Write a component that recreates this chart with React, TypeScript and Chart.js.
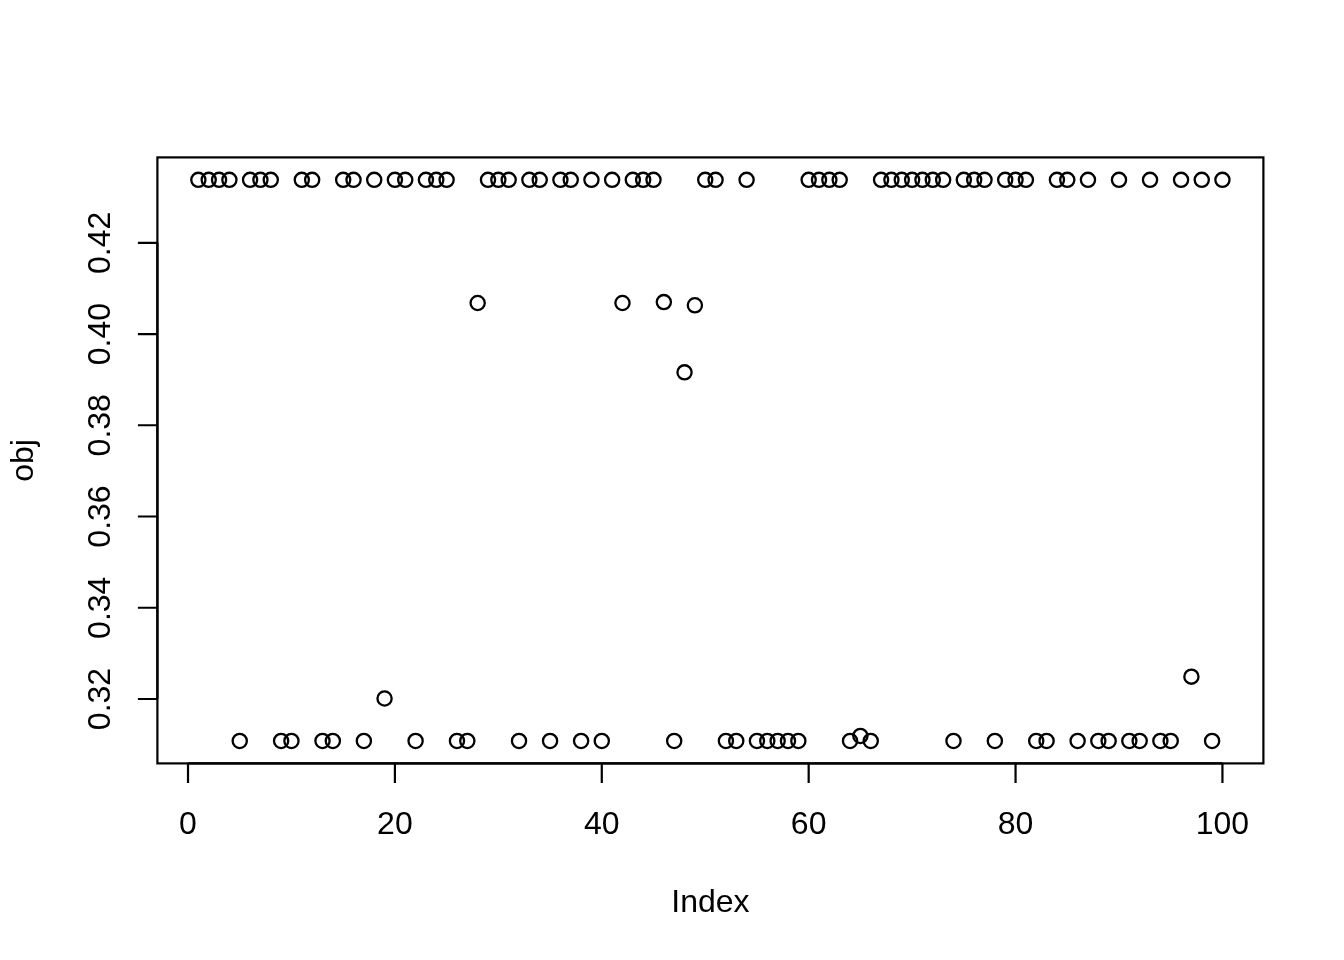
import React, { useEffect, useRef } from "react";
import { Chart, registerables } from "chart.js";

Chart.register(...registerables);

// obj values, index 1..100
const obj: number[] = [
  0.4338, 0.4338, 0.4338, 0.4338, 0.3108, 0.4338, 0.4338, 0.4338, 0.3108, 0.3108,
  0.4338, 0.4338, 0.3108, 0.3108, 0.4338, 0.4338, 0.3108, 0.4338, 0.3201, 0.4338,
  0.4338, 0.3108, 0.4338, 0.4338, 0.4338, 0.3108, 0.3108, 0.4068, 0.4338, 0.4338,
  0.4338, 0.3108, 0.4338, 0.4338, 0.3108, 0.4338, 0.4338, 0.3108, 0.4338, 0.3108,
  0.4338, 0.4068, 0.4338, 0.4338, 0.4338, 0.4070, 0.3108, 0.3916, 0.4063, 0.4338,
  0.4338, 0.3108, 0.3108, 0.4338, 0.3108, 0.3108, 0.3108, 0.3108, 0.3108, 0.4338,
  0.4338, 0.4338, 0.4338, 0.3108, 0.3119, 0.3108, 0.4338, 0.4338, 0.4338, 0.4338,
  0.4338, 0.4338, 0.4338, 0.3108, 0.4338, 0.4338, 0.4338, 0.3108, 0.4338, 0.4338,
  0.4338, 0.3108, 0.3108, 0.4338, 0.4338, 0.3108, 0.4338, 0.3108, 0.3108, 0.4338,
  0.3108, 0.3108, 0.4338, 0.3108, 0.3108, 0.4338, 0.3249, 0.4338, 0.3108, 0.4338,
];

const xTicks: number[] = [0, 20, 40, 60, 80, 100];
const xTickLabels: string[] = ["0", "20", "40", "60", "80", "100"];
const yTicks: number[] = [0.32, 0.34, 0.36, 0.38, 0.4, 0.42];
const yTickLabels: string[] = ["0.32", "0.34", "0.36", "0.38", "0.40", "0.42"];
const xTitle = "Index";
const yTitle = "obj";

const FONT = '32px "Liberation Sans", Arial, Helvetica, sans-serif';

const rAxesPlugin = {
  id: "rAxes",
  afterDraw(chart: any) {
    const { ctx, chartArea } = chart;
    const xs = chart.scales.x;
    const ys = chart.scales.y;
    const { left, right, top, bottom } = chartArea;
    ctx.save();
    ctx.strokeStyle = "#000";
    ctx.fillStyle = "#000";
    ctx.lineWidth = 2.2;
    ctx.lineCap = "butt";
    // box
    ctx.strokeRect(left, top, right - left, bottom - top);
    // x axis
    const x0 = xs.getPixelForValue(xTicks[0]);
    const x1 = xs.getPixelForValue(xTicks[xTicks.length - 1]);
    ctx.beginPath();
    ctx.moveTo(x0, bottom);
    ctx.lineTo(x1, bottom);
    xTicks.forEach((v) => {
      const px = xs.getPixelForValue(v);
      ctx.moveTo(px, bottom);
      ctx.lineTo(px, bottom + 19.5);
    });
    // y axis
    const y0 = ys.getPixelForValue(yTicks[0]);
    const y1 = ys.getPixelForValue(yTicks[yTicks.length - 1]);
    ctx.moveTo(left, y0);
    ctx.lineTo(left, y1);
    yTicks.forEach((v) => {
      const py = ys.getPixelForValue(v);
      ctx.moveTo(left, py);
      ctx.lineTo(left - 19.5, py);
    });
    ctx.stroke();

    ctx.font = FONT;
    ctx.textBaseline = "alphabetic";
    ctx.textAlign = "center";
    xTicks.forEach((v, i) => {
      ctx.fillText(xTickLabels[i], xs.getPixelForValue(v), 834);
    });
    yTicks.forEach((v, i) => {
      ctx.save();
      ctx.translate(110, ys.getPixelForValue(v));
      ctx.rotate(-Math.PI / 2);
      ctx.fillText(yTickLabels[i], 0, 0);
      ctx.restore();
    });
    // titles
    ctx.fillText(xTitle, (left + right) / 2, 912);
    ctx.save();
    ctx.translate(33, (top + bottom) / 2);
    ctx.rotate(-Math.PI / 2);
    ctx.fillText(yTitle, 0, 0);
    ctx.restore();
    ctx.restore();
  },
};

export default function App() {
  const ref = useRef<HTMLCanvasElement | null>(null);
  useEffect(() => {
    if (!ref.current) return;
    const pts = obj.map((v, i) => ({ x: i + 1, y: v }));
    const yMinD = Math.min(...obj);
    const yMaxD = Math.max(...obj);
    const yr = yMaxD - yMinD;
    const xMinD = 1;
    const xMaxD = obj.length;
    const xr = xMaxD - xMinD;
    const chart = new Chart(ref.current, {
      type: "scatter",
      data: {
        datasets: [
          {
            label: yTitle,
            data: pts,
            pointStyle: "circle",
            pointRadius: 7.1,
            pointHoverRadius: 7.1,
            pointBorderWidth: 2.3,
            pointBorderColor: "#000",
            pointBackgroundColor: "rgba(0,0,0,0)",
            clip: false as any,
          },
        ],
      },
      options: {
        animation: false,
        responsive: false,
        devicePixelRatio: 1,
        layout: { padding: { left: 157.4, right: 80.6, top: 157.4, bottom: 196.6 } },
        plugins: { legend: { display: false }, tooltip: { enabled: false } },
        events: [],
        scales: {
          x: {
            type: "linear",
            display: false,
            min: xMinD - 0.04 * xr,
            max: xMaxD + 0.04 * xr,
          },
          y: {
            type: "linear",
            display: false,
            min: yMinD - 0.04 * yr,
            max: yMaxD + 0.04 * yr,
          },
        },
      },
      plugins: [rAxesPlugin],
    });
    return () => chart.destroy();
  }, []);
  return (
    <div style={{ position: "absolute", left: 0, top: 0, width: 1344, height: 960, background: "#fff" }}>
      <canvas ref={ref} width={1344} height={960} style={{ width: 1344, height: 960, display: "block" }} />
    </div>
  );
}
